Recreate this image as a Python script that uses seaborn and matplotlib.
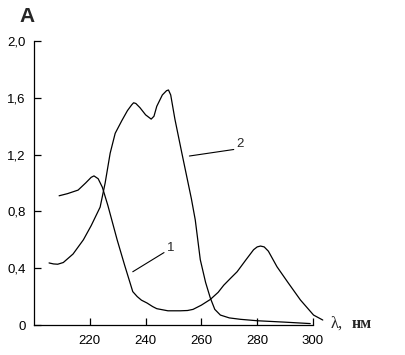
import pandas as pd
from matplotlib import pyplot as plt
import seaborn as sns

# curve 1: two maxima (~222 nm and ~281 nm)
wl_1 = [209, 212, 215.8, 218.5, 220.5, 221.5, 223, 224.5, 226.5, 229.8, 232.5,
        235.4, 237, 238.5, 240.5, 242.5, 244, 248, 252.4, 255, 257, 260, 263.2,
        266, 268, 270.5, 272.8, 276, 278.7, 280, 281.2, 282.5, 284, 287.1, 291,
        295.5, 300.2, 303.5]
abs_1 = [0.91, 0.925, 0.95, 1.0, 1.04, 1.05, 1.03, 0.97, 0.84, 0.6, 0.42,
         0.235, 0.2, 0.175, 0.155, 0.13, 0.115, 0.1, 0.1, 0.102, 0.11, 0.14, 0.18,
         0.23, 0.28, 0.33, 0.375, 0.46, 0.53, 0.55, 0.556, 0.55, 0.52, 0.41, 0.3,
         0.176, 0.07, 0.035]

# curve 2: double peak (~236 nm and ~248 nm)
wl_2 = [205.4, 207, 208.5, 210.5, 214, 217.7, 220.5, 223.7, 225.5, 227.3, 229.1,
        231.5, 233.5, 235, 235.7, 236.5, 238, 240, 242, 243, 244, 246, 247.5,
        248.2, 249, 250.5, 253, 256.4, 257.8, 259.6, 261.5, 263.2, 264.8, 266.8,
        270, 274, 280, 290, 299]
abs_2 = [0.437, 0.43, 0.428, 0.44, 0.5, 0.6, 0.7, 0.83, 1.0, 1.21, 1.35,
         1.44, 1.51, 1.55, 1.565, 1.56, 1.53, 1.48, 1.45, 1.47, 1.54, 1.62, 1.65,
         1.655, 1.62, 1.45, 1.21, 0.89, 0.74, 0.46, 0.3, 0.19, 0.11, 0.07,
         0.05, 0.04, 0.03, 0.02, 0.01]

x_ticks = [220, 240, 260, 280, 300]
y_ticks = [0, 0.4, 0.8, 1.2, 1.6, 2.0]
y_tick_labels = ["0", "0,4", "0,8", "1,2", "1,6", "2,0"]


def main():
    sns.set_style("white")
    plt.rcParams['font.family'] = ['Liberation Sans', 'DejaVu Sans']

    df1 = pd.DataFrame({"wl": wl_1, "A": abs_1})
    df2 = pd.DataFrame({"wl": wl_2, "A": abs_2})

    fig = plt.figure(figsize=(4.05, 3.55), dpi=100)
    ax = fig.add_axes([34 / 405, 1 - 325 / 355, 279 / 405, 284 / 355])

    for df in (df1, df2):
        sns.lineplot(data=df, x="wl", y="A", ax=ax, color="black", lw=0.9,
                     sort=False, estimator=None, clip_on=False)

    ax.set_xlim(200, 300)
    ax.set_ylim(0, 2.0)
    ax.set_xticks(x_ticks)
    ax.set_yticks(y_ticks)
    ax.set_yticklabels(y_tick_labels)
    ax.set_xlabel("")
    ax.set_ylabel("")
    ax.tick_params(direction="in", length=5, width=0.9, colors="black",
                   labelsize=9.5, left=True, bottom=True)
    ax.tick_params(axis="x", pad=7)
    ax.tick_params(axis="y", pad=6)
    for side in ("top", "right"):
        ax.spines[side].set_visible(False)
    for side in ("left", "bottom"):
        ax.spines[side].set_color("black")
        ax.spines[side].set_linewidth(0.9)

    # curve labels with leader lines
    ax.plot([235.4, 246.6], [0.375, 0.51], color="black", lw=0.8, clip_on=False)
    ax.text(247.6, 0.545, "1", fontsize=9.5, ha="left", va="center")
    ax.plot([255.7, 271.6], [1.19, 1.236], color="black", lw=0.8, clip_on=False)
    ax.text(272.6, 1.275, "2", fontsize=9.5, ha="left", va="center")

    serif = ["Liberation Serif", "DejaVu Serif"]
    ax.text(306.4, 0.01, "λ,", fontsize=12, family=serif,
            ha="left", va="center", clip_on=False)
    ax.text(313.8, 0.005, "нм", fontsize=11.5, fontweight="bold", family=serif,
            ha="left", va="center", clip_on=False)
    fig.text(27.5 / 405, 1 - 17 / 355, "A", fontsize=15, fontweight="bold",
             ha="center", va="center")

    fig.savefig("out.png", dpi=100)


if __name__ == "__main__":
    main()
